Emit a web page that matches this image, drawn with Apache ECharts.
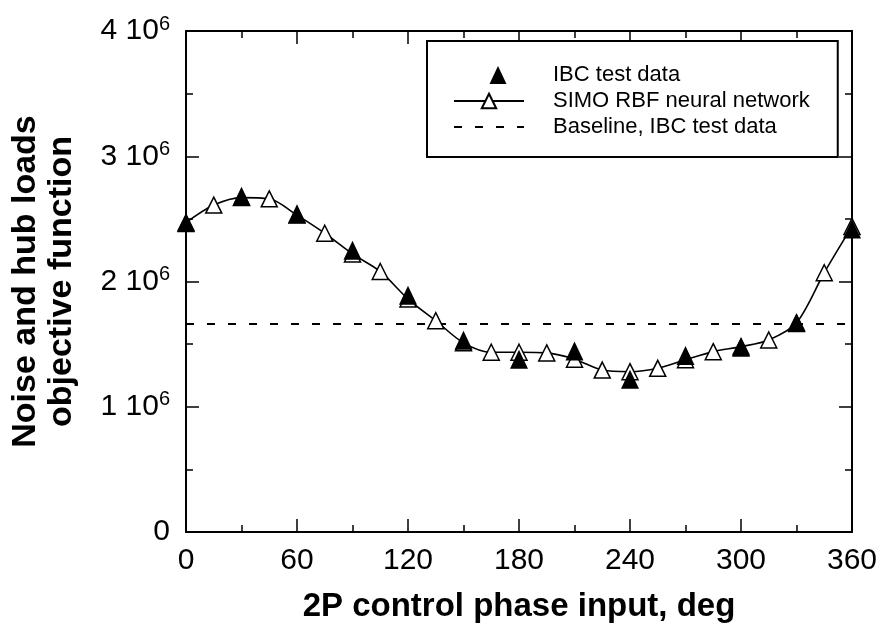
<!DOCTYPE html>
<html>
<head>
<meta charset="utf-8">
<script src="https://cdn.jsdelivr.net/npm/echarts@6/dist/echarts.min.js"></script>
<style>
  html, body { margin: 0; padding: 0; background: #fff; }
  #chart { width: 886px; height: 629px; }
</style>
</head>
<body>
<div id="chart"></div>
<script>
// ---- data ----
const ibcPhase = [0, 30, 60, 90, 120, 150, 180, 210, 240, 270, 300, 330, 360];
const ibcValues = [2.47e6, 2.68e6, 2.54e6, 2.25e6, 1.89e6, 1.53e6, 1.38e6, 1.445e6, 1.22e6, 1.41e6, 1.475e6, 1.67e6, 2.42e6];

const nnPhase = [0, 15, 30, 45, 60, 75, 90, 105, 120, 135, 150, 165, 180, 195, 210, 225, 240, 255, 270, 285, 300, 315, 330, 345, 360];
const nnValues = [2.47e6, 2.61e6, 2.67e6, 2.66e6, 2.53e6, 2.385e6, 2.22e6, 2.08e6, 1.86e6, 1.687e6, 1.51e6, 1.435e6, 1.435e6, 1.43e6, 1.38e6, 1.293e6, 1.28e6, 1.307e6, 1.375e6, 1.44e6, 1.48e6, 1.533e6, 1.67e6, 2.07e6, 2.44e6];

const baselinePhase = [0, 360];
const baselineValue = 1.66e6;

const xTicks = [0, 60, 120, 180, 240, 300, 360];
const yTickMantissa = ['0', '1', '2', '3', '4'];

const seriesNames = ['IBC test data', 'SIMO RBF neural network', 'Baseline, IBC test data'];
const xTitle = '2P control phase input, deg';
const yTitle = 'Noise and hub loads\nobjective function';

// ---- chart ----
const FONT = '"Liberation Sans", Arial, Helvetica, sans-serif';
const zip = (xs, ys) => xs.map((x, i) => [x, ys[i]]);

const tickCommon = {
  axisLine: { show: true, onZero: false, lineStyle: { color: '#000', width: 2 } },
  axisTick: { show: true, inside: true, length: 13, lineStyle: { color: '#000', width: 1.5 } },
  minorTick: { show: true, splitNumber: 2, length: 7, lineStyle: { color: '#000', width: 1.5 } },
  splitLine: { show: false },
  minorSplitLine: { show: false }
};

// legend icon: a triangle inside a 70x18 box (zero-length segments fix the box extents)
const legendTriangle = 'path://M0,0 L0,0 M70,18 L70,18 M35.5,18 L44,0 L52.5,18 Z';

const chart = echarts.init(document.getElementById('chart'), null, { renderer: 'canvas' });
chart.setOption({
  backgroundColor: '#fff',
  animation: false,
  textStyle: { fontFamily: FONT, color: '#000' },
  grid: { left: 186, right: 34, top: 31, bottom: 97 },
  legend: {
    orient: 'vertical',
    left: 427,
    top: 41,
    padding: [22, 28, 18, 26],
    borderColor: '#000',
    borderWidth: 2,
    backgroundColor: '#fff',
    itemWidth: 70,
    itemHeight: 18,
    itemGap: 2,
    textStyle: { fontSize: 22, fontFamily: FONT, color: '#000', lineHeight: 24, padding: [0, 0, 0, 24] },
    data: [
      { name: seriesNames[0], icon: legendTriangle },
      { name: seriesNames[1] },
      { name: seriesNames[2] }
    ]
  },
  xAxis: [
    Object.assign({
      type: 'value', position: 'bottom', min: 0, max: 360, interval: 60,
      axisLabel: {
        fontSize: 30, color: '#000', margin: 14, fontFamily: FONT,
        formatter: v => (xTicks.indexOf(v) >= 0 ? String(v) : '')
      },
      name: xTitle, nameLocation: 'middle', nameGap: 58,
      nameTextStyle: { fontSize: 33, fontWeight: 'bold', color: '#000', fontFamily: FONT }
    }, tickCommon),
    Object.assign({
      type: 'value', position: 'top', min: 0, max: 360, interval: 60,
      axisLabel: { show: false }
    }, tickCommon)
  ],
  yAxis: [
    Object.assign({
      type: 'value', position: 'left', min: 0, max: 4e6, interval: 1e6,
      axisLabel: {
        margin: 16, color: '#000', fontFamily: FONT,
        formatter: v => {
          const m = yTickMantissa[Math.round(v / 1e6)];
          return m === '0' ? '{n|0}' : '{n|' + m + ' 10}{s|6}';
        },
        rich: {
          n: { fontSize: 30, fontFamily: FONT, color: '#000', lineHeight: 34 },
          s: { fontSize: 20, fontFamily: FONT, color: '#000', verticalAlign: 'top', lineHeight: 20 }
        }
      },
      name: yTitle, nameLocation: 'middle', nameGap: 106, nameRotate: 90,
      nameTextStyle: { fontSize: 34, fontWeight: 'bold', color: '#000', fontFamily: FONT, lineHeight: 36, align: 'center' }
    }, tickCommon),
    Object.assign({
      type: 'value', position: 'right', min: 0, max: 4e6, interval: 1e6,
      axisLabel: { show: false }
    }, tickCommon)
  ],
  series: [
    {
      name: seriesNames[1],
      type: 'line',
      data: zip(nnPhase, nnValues),
      smooth: 0.3,
      symbol: 'triangle',
      symbolSize: [16, 16],
      showAllSymbol: true,
      lineStyle: { color: '#000', width: 1.6 },
      itemStyle: { color: '#fff', borderColor: '#000', borderWidth: 1.5 },
      z: 3
    },
    {
      name: seriesNames[0],
      type: 'scatter',
      data: zip(ibcPhase, ibcValues),
      symbol: 'triangle',
      symbolSize: [18, 19],
      itemStyle: { color: '#000', opacity: 1 },
      z: 4
    },
    {
      name: seriesNames[2],
      type: 'line',
      data: baselinePhase.map(p => [p, baselineValue]),
      symbol: 'none',
      lineStyle: { color: '#000', width: 2, type: [8, 13] },
      itemStyle: { color: 'rgba(0,0,0,0)', borderColor: 'rgba(0,0,0,0)' },
      z: 2
    }
  ]
});
</script>
</body>
</html>
